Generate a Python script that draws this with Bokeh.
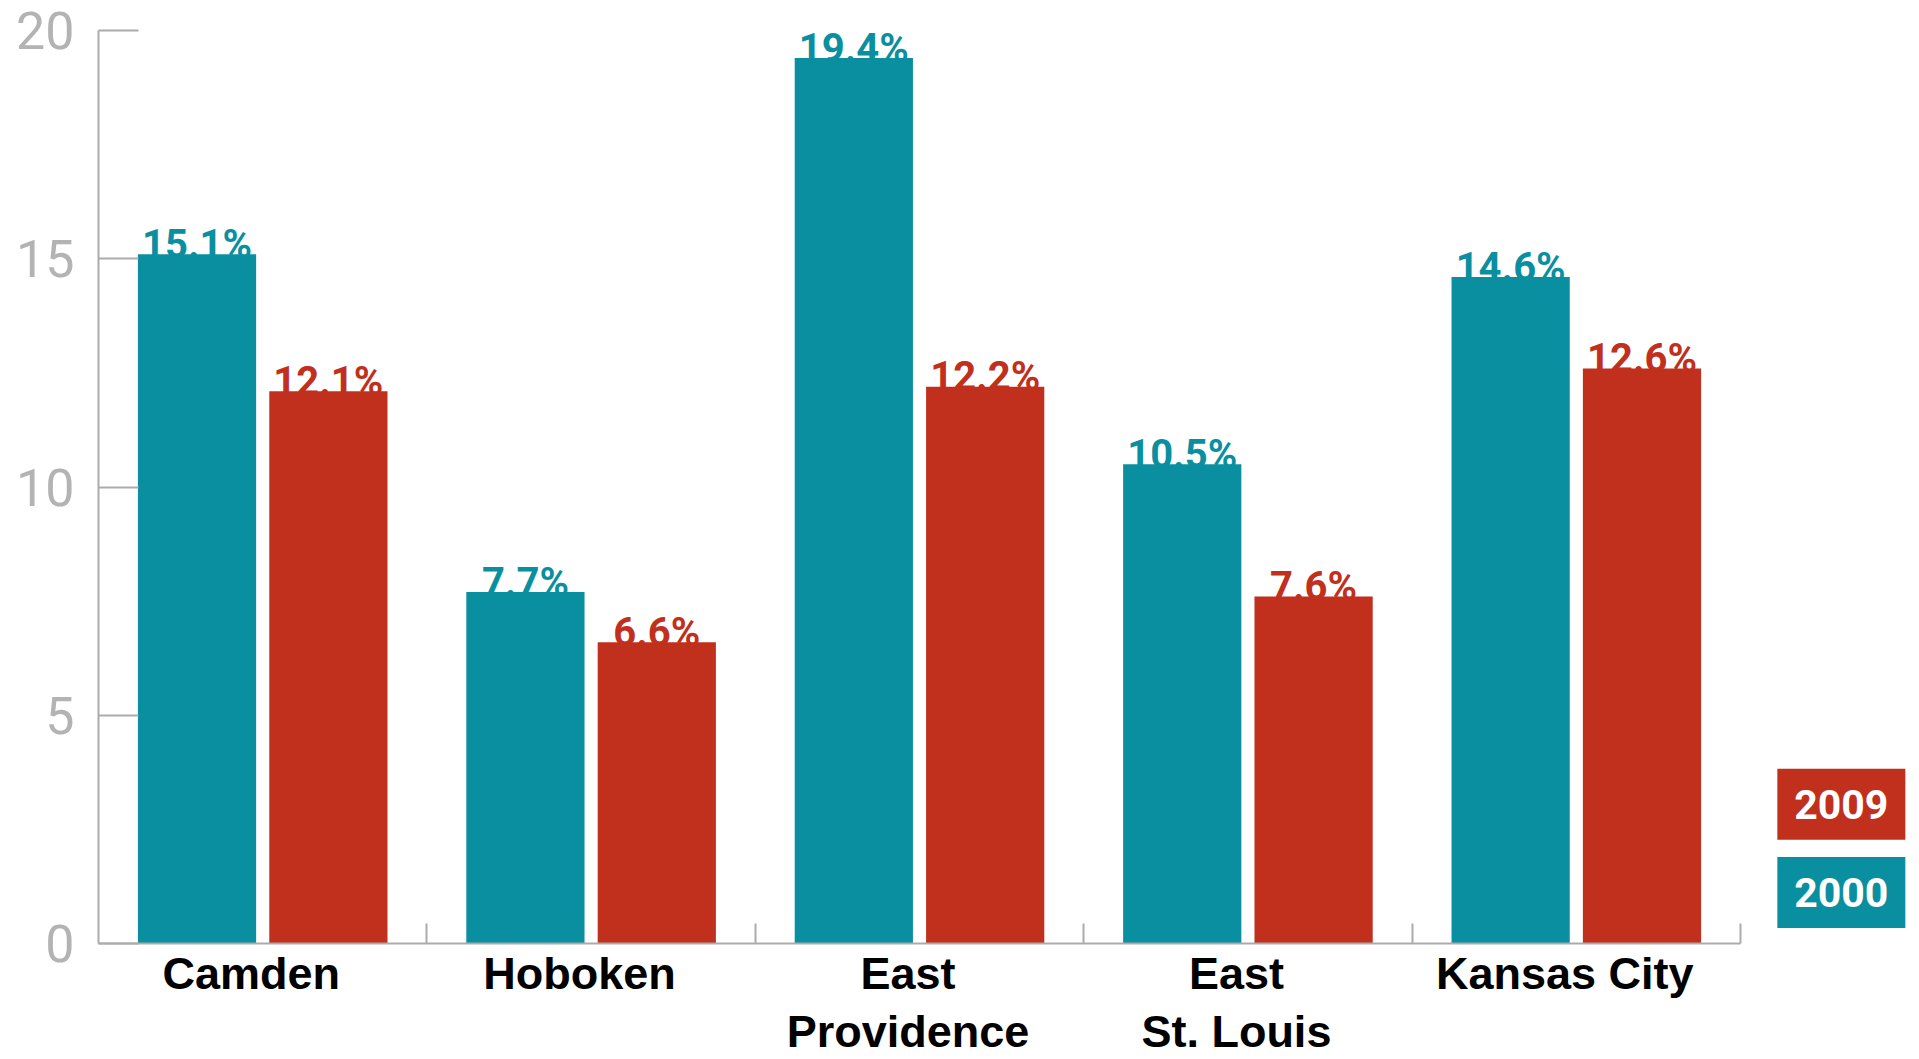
from bokeh.plotting import figure
from bokeh.models import FixedTicker, LinearAxis, Range1d
from bokeh.core.properties import value
from bokeh.embed import file_html
from bokeh.resources import INLINE

# ---- data ----
cities = ["Camden", "Hoboken", "East Providence", "East St. Louis", "Kansas City"]
label_line1 = ["Camden", "Hoboken", "East", "East", "Kansas City"]
label_line2 = ["", "", "Providence", "St. Louis", ""]
rate_2000 = [15.1, 7.7, 19.4, 10.5, 14.6]
rate_2009 = [12.1, 6.6, 12.2, 7.6, 12.6]
years = ["2009", "2000"]
y_ticks = [0, 5, 10, 15, 20]

TEAL = "#0a8fa0"
RED = "#c0301c"
GREY = "#ababab"

idx = list(range(len(cities)))
x2000 = [i - 0.2 for i in idx]
x2009 = [i + 0.2 for i in idx]
lab2000 = [f"{v:.1f}%" for v in rate_2000]
lab2009 = [f"{v:.1f}%" for v in rate_2009]
# city names sit slightly left of the group centre
name_pos = [i - 0.035 for i in idx]

p = figure(width=1919, height=1059,
           x_range=Range1d(-0.5, 5.045),
           y_range=Range1d(0, 20.66),
           output_backend="svg", toolbar_location=None,
           min_border_left=98, min_border_right=0,
           min_border_top=0, min_border_bottom=115)
p.outline_line_color = None
p.xgrid.visible = False
p.ygrid.visible = False
p.background_fill_color = "white"
p.border_fill_color = "white"

# value labels (drawn first, bars overlap their bottom slightly)
p.text(x=x2000, y=rate_2000, text=lab2000, text_align="center",
       text_baseline="alphabetic", y_offset=-10,
       text_font=value("Roboto"), text_font_style="bold",
       text_font_size="40px", text_color=TEAL)
p.text(x=x2009, y=rate_2009, text=lab2009, text_align="center",
       text_baseline="alphabetic", y_offset=-10,
       text_font=value("Roboto"), text_font_style="bold",
       text_font_size="40px", text_color=RED)

p.vbar(x=x2000, top=rate_2000, bottom=0, width=0.36, fill_color=TEAL, line_color=None)
p.vbar(x=x2009, top=rate_2009, bottom=0, width=0.36, fill_color=RED, line_color=None)

# legend boxes (right of the bars)
legend_x = [4.807, 4.807]
legend_y = [3.05, 1.12]
p.rect(x=legend_x, y=legend_y, width=128, height=71,
       width_units="screen", height_units="screen",
       fill_color=[RED, TEAL], line_color=None)
p.text(x=legend_x, y=legend_y, text=years, text_align="center",
       text_baseline="middle", text_color="white",
       text_font=value("Roboto"), text_font_style="bold",
       text_font_size="41px")

# y axis
ya = p.yaxis[0]
ya.ticker = FixedTicker(ticks=y_ticks, minor_ticks=[])
ya.bounds = (0, 20)
ya.axis_line_color = GREY
ya.axis_line_width = 2
ya.major_tick_line_color = GREY
ya.major_tick_line_width = 2
ya.major_tick_in = 40
ya.major_tick_out = 0
ya.minor_tick_line_color = None
ya.major_label_text_font = "Roboto"
ya.major_label_text_font_size = "52px"
ya.major_label_text_color = "#b3b3b3"
ya.major_label_standoff = 24

# x axis (first line of the city names, group separators as minor ticks)
xa = p.xaxis[0]
xa.ticker = FixedTicker(ticks=name_pos, minor_ticks=[i + 0.5 for i in idx])
xa.bounds = (-0.5, len(cities) - 0.5)
xa.major_label_overrides = {pos: lab for pos, lab in zip(name_pos, label_line1)}
xa.axis_line_color = GREY
xa.axis_line_width = 2
xa.major_tick_line_color = None
xa.major_tick_in = 0
xa.major_tick_out = 0
xa.minor_tick_line_color = GREY
xa.minor_tick_line_width = 2
xa.minor_tick_in = 20
xa.minor_tick_out = 0
xa.major_label_text_font = "Liberation Sans"
xa.major_label_text_font_style = "bold"
xa.major_label_text_font_size = "45px"
xa.major_label_text_color = "black"
xa.major_label_standoff = 4

# second line of the two-line city names
pos2 = [pos for pos, lab in zip(name_pos, label_line2) if lab]
lab2 = [lab for lab in label_line2 if lab]
xa2 = LinearAxis(ticker=FixedTicker(ticks=pos2, minor_ticks=[]),
                 major_label_overrides={pos: lab for pos, lab in zip(pos2, lab2)})
xa2.axis_line_color = None
xa2.major_tick_line_color = None
xa2.minor_tick_line_color = None
xa2.major_tick_in = 0
xa2.major_tick_out = 0
xa2.major_label_text_font = "Liberation Sans"
xa2.major_label_text_font_style = "bold"
xa2.major_label_text_font_size = "45px"
xa2.major_label_text_color = "black"
xa2.major_label_standoff = 4
p.add_layout(xa2, "below")

open("out.html", "w").write(file_html(p, INLINE))
